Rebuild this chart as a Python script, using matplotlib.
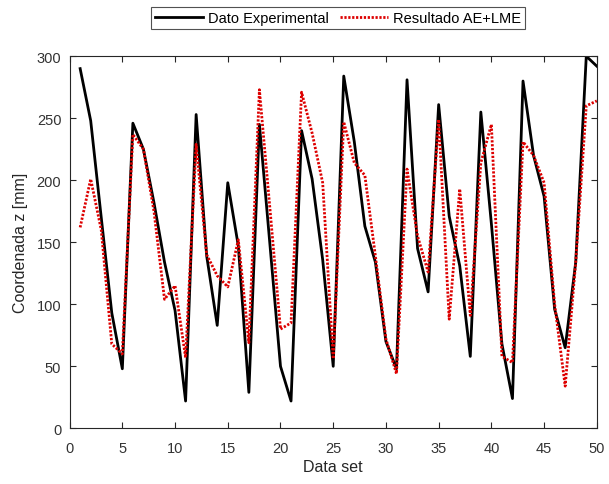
import matplotlib.pyplot as plt
import numpy as np

plt.rcParams['font.family'] = ['Liberation Sans', 'DejaVu Sans']

# === DATA ===
data_set = list(range(1, 51))
experimental = [290, 248, 170, 93, 48, 246, 225, 182, 134, 95,
                22, 253, 139, 83, 198, 147, 29, 245, 148, 50,
                22, 240, 201, 136, 50, 284, 231, 163, 134, 70,
                48, 281, 145, 110, 261, 171, 131, 58, 255, 165,
                68, 24, 280, 220, 187, 96, 65, 134, 300, 292]
resultado = [162, 201, 160, 68, 60, 237, 225, 175, 104, 115,
             57, 229, 140, 123, 114, 152, 69, 273, 177, 80,
             85, 271, 238, 198, 56, 247, 214, 204, 139, 72,
             44, 209, 155, 126, 249, 88, 193, 91, 214, 245,
             58, 53, 231, 220, 198, 100, 34, 134, 260, 264]

# === FIGURE ===
fig = plt.figure(figsize=(6.09, 4.85), dpi=100)
ax = fig.add_axes([0.1143, 0.1148, 0.8657, 0.7672])

ax.plot(data_set, experimental, color="black", linewidth=2.0,
        label="Dato Experimental")
ax.plot(data_set, resultado, color="#dd0000", linestyle=(0, (0.8, 0.6)),
        linewidth=2.0, label="Resultado AE+LME")

ax.set_xlim(0, 50)
ax.set_ylim(0, 300)
ax.set_xticks(np.arange(0, 51, 5))
ax.set_yticks(np.arange(0, 301, 50))
ax.tick_params(direction="in", top=True, right=True, length=4,
               labelsize=10.5, color="#262626", labelcolor="#333333")
ax.tick_params(axis="x", pad=9)
ax.tick_params(axis="y", pad=6)
for s in ax.spines.values():
    s.set_color("#262626")
    s.set_linewidth(0.8)

ax.set_xlabel("Data set", fontsize=11.5, color="#262626", labelpad=3)
ax.set_ylabel("Coordenada z [mm]", fontsize=11.5, color="#262626", labelpad=6)

leg = ax.legend(loc="center", bbox_to_anchor=(0.509, 1.103), ncol=2,
                fontsize=10.5, frameon=True, fancybox=False,
                handlelength=3.3, handletextpad=0.35, columnspacing=0.7,
                borderpad=0.3, borderaxespad=0)
leg.get_frame().set_edgecolor("#262626")
leg.get_frame().set_linewidth(0.8)

fig.savefig("out.png", dpi=100)
